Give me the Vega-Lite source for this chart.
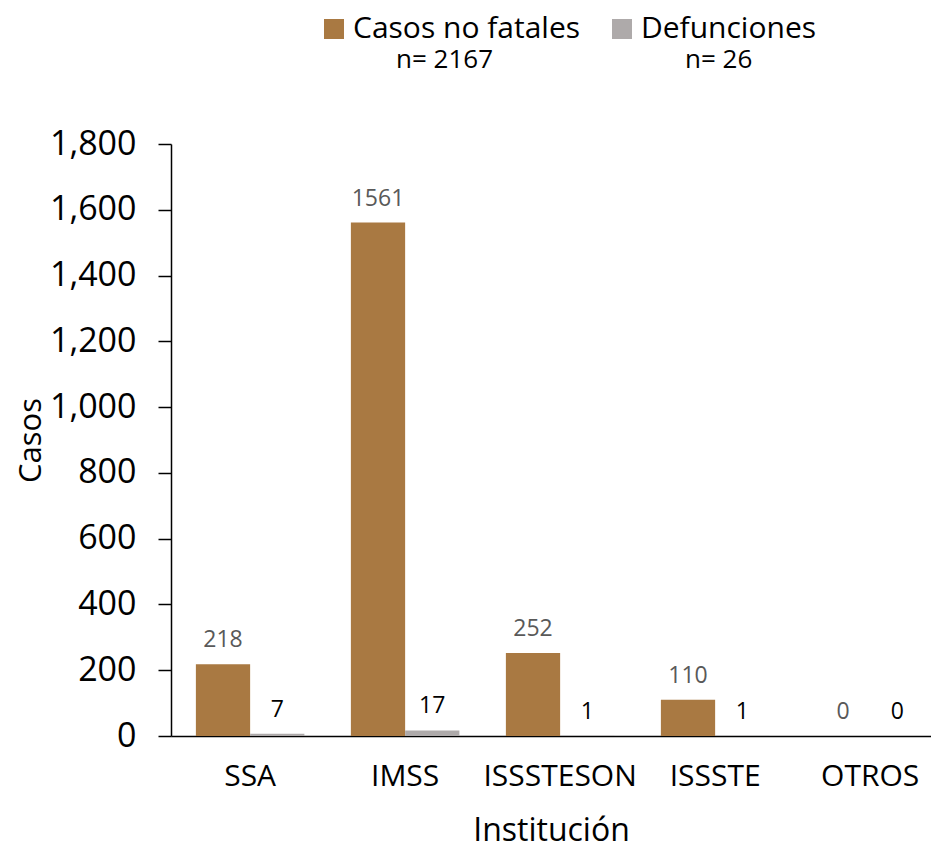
{
  "$schema": "https://vega.github.io/schema/vega-lite/v6.json",
  "width": 760,
  "height": 592,
  "autosize": "none",
  "padding": {"left": 171, "top": 144, "right": 0, "bottom": 124},
  "background": "white",
  "config": {"font": "Open Sans", "view": {"stroke": null}},
  "data": {
    "values": [
      {"inst": "SSA", "serie": "Casos no fatales", "n": "n= 2167", "casos": 218},
      {"inst": "SSA", "serie": "Defunciones", "n": "n= 26", "casos": 7},
      {"inst": "IMSS", "serie": "Casos no fatales", "n": "n= 2167", "casos": 1561},
      {"inst": "IMSS", "serie": "Defunciones", "n": "n= 26", "casos": 17},
      {"inst": "ISSSTESON", "serie": "Casos no fatales", "n": "n= 2167", "casos": 252},
      {"inst": "ISSSTESON", "serie": "Defunciones", "n": "n= 26", "casos": 1},
      {"inst": "ISSSTE", "serie": "Casos no fatales", "n": "n= 2167", "casos": 110},
      {"inst": "ISSSTE", "serie": "Defunciones", "n": "n= 26", "casos": 1},
      {"inst": "OTROS", "serie": "Casos no fatales", "n": "n= 2167", "casos": 0},
      {"inst": "OTROS", "serie": "Defunciones", "n": "n= 26", "casos": 0}
    ]
  },
  "encoding": {
    "x": {
      "field": "inst",
      "type": "nominal",
      "sort": ["SSA", "IMSS", "ISSSTESON", "ISSSTE", "OTROS"],
      "scale": {"paddingInner": 0.3, "paddingOuter": 0.1016, "align": 0.79},
      "axis": {
        "title": "Institución",
        "titleFontSize": 32,
        "titleFontWeight": "normal",
        "titleColor": "black",
        "titlePadding": 24,
        "labelFontSize": 30,
        "labelColor": "black",
        "labelAngle": 0,
        "labelPadding": 25,
        "ticks": false,
        "domainColor": "black",
        "domainWidth": 1.5
      }
    },
    "xOffset": {"field": "serie", "type": "nominal", "sort": ["Casos no fatales", "Defunciones"]},
    "y": {
      "field": "casos",
      "type": "quantitative",
      "scale": {"domain": [0, 1800]},
      "axis": {
        "title": "Casos",
        "titleFontSize": 31,
        "titleFontWeight": "normal",
        "titleColor": "black",
        "titlePadding": 2,
        "values": [0, 200, 400, 600, 800, 1000, 1200, 1400, 1600, 1800],
        "format": ",d",
        "labelFontSize": 34,
        "labelColor": "black",
        "labelPadding": 22,
        "tickSize": 13,
        "tickColor": "black",
        "tickWidth": 1.5,
        "domainColor": "black",
        "domainWidth": 1.5,
        "grid": false
      }
    }
  },
  "layer": [
    {
      "mark": {"type": "bar"},
      "encoding": {
        "color": {
          "field": "serie",
          "type": "nominal",
          "scale": {"domain": ["Casos no fatales", "Defunciones"], "range": ["#A97942", "#AEAAAA"]},
          "legend": {
            "title": null,
            "orient": "none",
            "legendX": 148,
            "legendY": -130,
            "direction": "horizontal",
            "symbolType": "square",
            "symbolSize": 400,
            "symbolStrokeWidth": 0,
            "labelFontSize": 30,
            "labelColor": "black",
            "labelOffset": 4,
            "columnPadding": 26,
            "labelLimit": 400
          }
        }
      }
    },
    {
      "mark": {"type": "text", "baseline": "alphabetic", "dy": -17, "fontSize": 23},
      "encoding": {
        "text": {"field": "casos", "type": "quantitative"},
        "color": {
          "condition": {"test": "datum.serie == 'Casos no fatales'", "value": "#595959"},
          "value": "black"
        },
        "opacity": {
          "field": "n",
          "type": "nominal",
          "scale": {"domain": ["n= 2167", "n= 26"], "range": [1, 0.999]},
          "legend": {
            "title": null,
            "orient": "none",
            "legendX": 199,
            "legendY": -97,
            "direction": "horizontal",
            "symbolType": "circle",
            "symbolSize": 0,
            "symbolFillColor": "transparent",
            "symbolStrokeColor": "transparent",
            "symbolStrokeWidth": 0,
            "labelFontSize": 26,
            "labelColor": "black",
            "labelOffset": 0,
            "columnPadding": 165,
            "labelLimit": 400
          }
        }
      }
    }
  ]
}
